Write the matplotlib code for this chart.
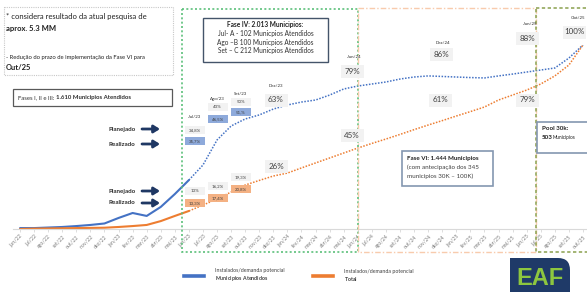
import matplotlib.pyplot as plt
from matplotlib.patches import Rectangle, PathPatch
from matplotlib.path import Path
from matplotlib.lines import Line2D

plt.rcParams['font.family'] = ['Lato', 'DejaVu Sans']
plt.rcParams['mathtext.fontset'] = 'custom'
plt.rcParams['mathtext.rm'] = 'Lato'
plt.rcParams['mathtext.bf'] = 'Lato:bold'

# months on the x axis
months = ['jun/22', 'jul/22', 'ago/22', 'set/22', 'out/22', 'nov/22', 'dez/22',
          'jan/23', 'fev/23', 'mar/23', 'abr/23', 'mai/23', 'jun/23', 'jul/23',
          'ago/23', 'set/23', 'out/23', 'nov/23', 'dez/23', 'jan/24', 'fev/24',
          'mar/24', 'abr/24', 'mai/24', 'jun/24', 'jul/24', 'ago/24', 'set/24',
          'out/24', 'nov/24', 'dez/24', 'jan/25', 'fev/25', 'mar/25', 'abr/25',
          'mai/25', 'jun/25', 'jul/25', 'ago/25', 'set/25', 'out/25']

# Municipios atendidos (%), realizado jun/22..jun/23, planejado jun/23..out/25
blue_real = [0.5, 0.5, 0.8, 1.1, 1.6, 2.2, 3.0, 6.0, 8.7, 7.1, 12.0, 19.0, 26.6]
blue_plan = [26.6, 34.8, 48.4, 56.0, 59.8, 62.0, 65.2, 67.4, 69.0, 70.1, 72.8,
             76.1, 77.7, 78.8, 79.9, 81.5, 82.6, 83.2, 82.9, 82.6, 82.3, 82.1,
             83.2, 84.2, 85.3, 86.4, 87.5, 92.9, 100.0]
# Total (%)
orange_real = [0.0, 0.2, 0.3, 0.4, 0.5, 0.6, 0.7, 1.1, 1.6, 2.2, 4.3, 7.1, 9.8]
orange_plan = [9.8, 13.0, 16.3, 20.1, 23.9, 26.4, 28.8, 30.4, 33.2, 35.9, 38.6,
               41.3, 44.0, 46.5, 48.9, 51.4, 54.0, 56.5, 58.9, 61.4, 63.8, 66.3,
               70.1, 72.8, 75.5, 78.8, 83.2, 89.1, 100.0]

BLUE = '#4472c4'
ORANGE = '#ed7d31'
W, H = 587, 292

fig = plt.figure(figsize=(W / 100, H / 100), dpi=100)
ax = fig.add_axes([13.0 / W, 63 / H, 577.0 / W, 184 / H])

x_real = list(range(len(blue_real)))
x_plan = list(range(len(blue_real) - 1, len(months)))
ax.plot(x_real, blue_real, color=BLUE, lw=1.5, solid_capstyle='round')
ax.plot(x_plan, blue_plan, color=BLUE, lw=1.1, ls=(0, (1.0, 1.0)))
ax.plot(x_real, orange_real, color=ORANGE, lw=1.5, solid_capstyle='round')
ax.plot(x_plan, orange_plan, color=ORANGE, lw=1.1, ls=(0, (1.0, 1.0)))

ax.set_xlim(-0.5, len(months) - 0.5)
ax.set_ylim(0, 100)
ax.set_xticks(range(len(months)))
ax.set_xticklabels(months, rotation=45, ha='right', rotation_mode='anchor',
                   fontsize=3.8, color='#808080')
ax.tick_params(axis='x', length=2, width=0.5, color='#d0d0d0', pad=1.5)
ax.set_yticks([])
for s in ['top', 'left', 'right']:
    ax.spines[s].set_visible(False)
ax.spines['bottom'].set_color('#d9d9d9')
ax.spines['bottom'].set_linewidth(0.8)

# overlay in pixel coordinates for the annotations
ov = fig.add_axes([0, 0, 1, 1], zorder=5)
ov.set_xlim(0, W)
ov.set_ylim(H, 0)
ov.axis('off')
ov.patch.set_alpha(0)


def rect(x0, y0, x1, y1, fc='none', ec='none', lw=0.8, ls='-', z=2):
    ov.add_patch(Rectangle((x0, y0), x1 - x0, y1 - y0, fc=fc, ec=ec, lw=lw,
                           ls=ls, zorder=z, clip_on=False))


def vbox(cx, cy, w, h, s, fc, fs, color='#404040', weight='normal'):
    rect(cx - w / 2, cy - h / 2, cx + w / 2, cy + h / 2, fc=fc, z=4)
    ov.text(cx, cy, s, ha='center', va='center', fontsize=fs, color=color,
            weight=weight, zorder=5)


# phase frames
rect(182, 9, 358, 252, ec='#5cc07a', lw=1.2, ls=(0, (1.2, 1.4)), z=1)
rect(358, 8, 536, 252, ec='#f8cbad', lw=1.0, ls=(0, (4, 1.5, 1, 1.5)), z=1)
rect(536, 8, 600, 252, ec='#94a85c', lw=1.2, ls=(0, (2, 1.5)), z=1)

# top-left note
rect(4, 7, 173, 75, ec='#c8c8c8', lw=0.8, ls=(0, (1, 1)))
ov.text(6, 17, '* considera resultado da atual pesquisa de', fontsize=5.5,
        va='center', color='#202020')
ov.text(6, 28, 'aprox. 5.3 MM', fontsize=5.5, va='center', weight='bold',
        color='#202020')
ov.text(6, 57, '- Redução do prazo de implementação da Fase VI para', fontsize=4.2,
        va='center', color='#202020')
ov.text(6, 67, 'Out/25', fontsize=5.5, va='center', weight='bold', color='#202020')

# fases I-III
rect(13, 89, 172, 106, fc='white', ec='#595959', lw=0.9)
ov.text(18, 97.5, 'Fases I, II e III:', fontsize=4.3, va='center', color='#303030')
ov.text(56, 97.5, '1.610 Municipios Atendidos', fontsize=4.3, va='center',
        weight='bold', color='#303030')

# fase IV box
rect(203, 18, 328, 62, fc='white', ec='#44546a', lw=1.0)
ov.text(265.5, 25, 'Fase IV: 2.013 Municipios:', fontsize=4.7, ha='center',
        va='center', weight='bold', color='#202020')
for yy, s in zip([33.5, 42, 50.5], ['Jul- A - 102 Municpios Atendidos',
                                    'Ago \u2013B 100 Municpios Atendidos',
                                    'Set \u2013 C 212 Municpios Atendidos']):
    ov.text(265.5, yy, s, fontsize=4.7, ha='center', va='center', color='#303030')

# planejado / realizado arrows
for yy, s in [(129, 'Planejado'), (144, 'Realizado'), (191, 'Planejado'),
              (203, 'Realizado')]:
    ov.text(122, yy, s, fontsize=4.5, ha='center', va='center', weight='bold',
            color='#303030')
    ov.annotate('', xy=(160, yy), xytext=(142, yy),
                arrowprops=dict(arrowstyle='-|>,head_length=0.35,head_width=0.22',
                                color='#1f3864', lw=2.0, shrinkA=0, shrinkB=0))

GRAY = '#f2f2f2'
LBLUE = '#8eaadb'
LORANGE = '#f4b183'

# month labels
for cx, cy, s in [(194, 117, 'Jul/23'), (217, 99, 'Ago/23'), (240, 94, 'Set/23'),
                  (276, 86, 'Dez/23'), (354, 57, 'Jun/24'), (443, 43, 'Dez/24'),
                  (530, 24, 'Jun/25'), (578, 18, 'Out/25')]:
    ov.text(cx, cy, s, fontsize=3.2, ha='center', va='center', color='#303030')

# small value boxes
for cx, cy, s, fc in [(195, 130, '34,8%', GRAY), (195, 141, '35,7%', LBLUE),
                      (217.5, 107, '43%', GRAY), (217.5, 119, '46,5%', LBLUE),
                      (241, 102, '50%', GRAY), (241, 112, '51,%', LBLUE),
                      (195, 191, '13%', GRAY), (195, 203, '13,3%', LORANGE),
                      (217.5, 186, '16,2%', GRAY), (217.5, 198, '17,4%', LORANGE),
                      (241, 177, '19,3%', GRAY), (241, 189, '20,8%', LORANGE)]:
    vbox(cx, cy, 20, 7.5, s, fc, 3.2)

# big value boxes
for cx, cy, s in [(276, 100, '63%'), (276, 166.5, '26%'), (352, 135, '45%'),
                  (352, 71, '79%'), (441, 54.5, '86%'), (440, 100, '61%'),
                  (527.5, 38.5, '88%'), (527.5, 100, '79%'), (574, 32, '100%')]:
    vbox(cx, cy, 23, 13, s, GRAY, 5.8, color='#404040')

# fase VI box
rect(402, 151, 493, 186, fc='white', ec='#8497b0', lw=1.2)
ov.text(407, 158.5, 'Fase VI: 1.444 Municipios', fontsize=4.5, va='center',
        weight='bold', color='#202020')
ov.text(407, 167.5, '(com antecipação dos 345', fontsize=4.5, va='center',
        color='#404040')
ov.text(407, 176.5, 'municipios 30K \u2013 100K)', fontsize=4.5, va='center',
        color='#404040')

# pool box
rect(537, 122, 590, 153, fc='white', ec='#8497b0', lw=1.2)
ov.text(542, 128.5, 'Pool 30k:', fontsize=4.5, va='center', weight='bold',
        color='#202020')
ov.text(542, 137.5, '503', fontsize=4.5, va='center', weight='bold', color='#202020')
ov.text(553, 137.5, 'Municipios', fontsize=3.4, va='center', color='#202020')

# legend
handles = [Line2D([], [], color=BLUE, lw=2.6), Line2D([], [], color=ORANGE, lw=2.6)]
labels = ['Instalados/demanda potencial\n$\\mathbf{Municipios\\ Atendidos}$',
          'Instalados/demanda potencial\n$\\mathbf{Total}$']
fig.legend(handles, labels, ncol=2, loc='upper left',
           bbox_to_anchor=(184 / W, 1 - 268 / H), frameon=False, fontsize=3.8,
           handlelength=3.8, handletextpad=2.0, columnspacing=5.5,
           borderpad=0, borderaxespad=0, labelcolor='#404040')

# EAF logo
verts = [(510, 292), (510, 258), (558, 258), (570, 258), (570, 270), (570, 292), (510, 292)]
codes = [Path.MOVETO, Path.LINETO, Path.LINETO, Path.CURVE3, Path.CURVE3,
         Path.LINETO, Path.CLOSEPOLY]
ov.add_patch(PathPatch(Path(verts, codes), fc='#1f3a68', ec='none', zorder=3,
                       clip_on=False))
ov.text(540, 278.5, 'EAF', fontsize=17, ha='center', va='center', weight='bold',
        color='#8dc63f', family=['Liberation Sans Narrow', 'Liberation Sans'],
        zorder=4)

fig.savefig('out.png', dpi=100)
